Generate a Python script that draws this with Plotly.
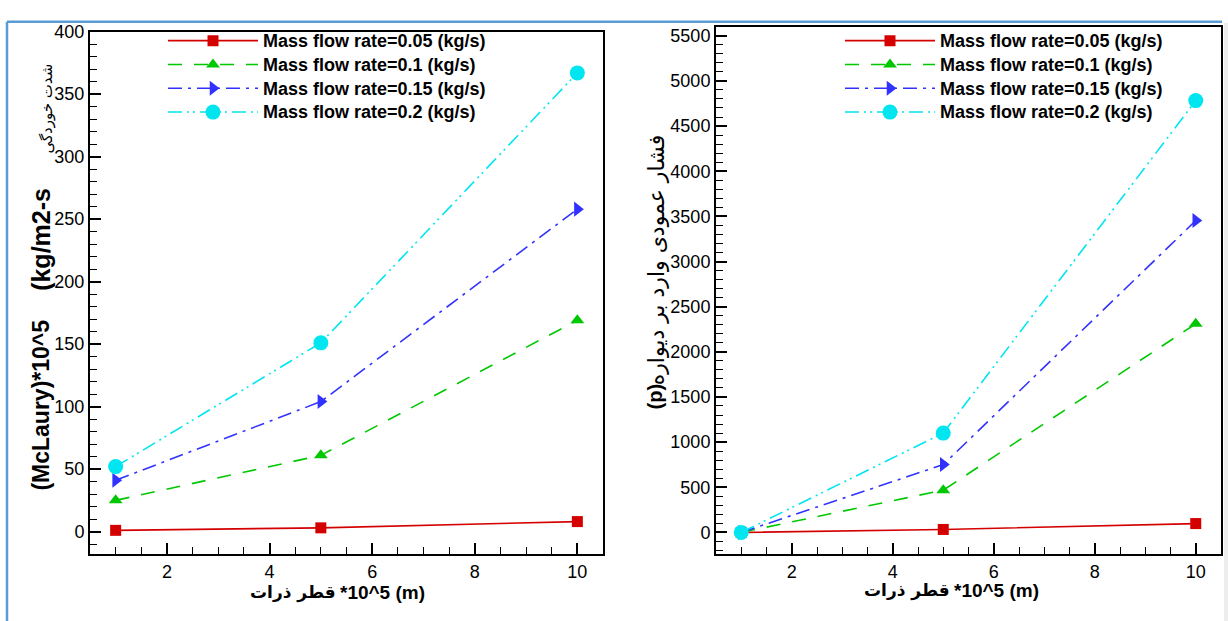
import plotly.graph_objects as go

W, H = 1228, 621

# particle diameter (*10^5 m)
diameter = [1, 5, 10]

flow_names = [
    "Mass flow rate=0.05 (kg/s)",
    "Mass flow rate=0.1 (kg/s)",
    "Mass flow rate=0.15 (kg/s)",
    "Mass flow rate=0.2 (kg/s)",
]

# erosion rate (McLaury)*10^5 (kg/m2-s)
erosion_005 = [1, 3, 8]
erosion_010 = [25, 61, 169]
erosion_015 = [41, 104, 258]
erosion_020 = [52, 151, 367]

# normal pressure on the wall (p)
pressure_005 = [0, 33, 98]
pressure_010 = [0, 468, 2310]
pressure_015 = [0, 751, 3453]
pressure_020 = [0, 1100, 4782]

erosion = [erosion_005, erosion_010, erosion_015, erosion_020]
pressure = [pressure_005, pressure_010, pressure_015, pressure_020]

colors = ["#d40000", "#00c800", "#3232ff", "#00e6f0"]
dashes = ["solid", "14px,12px", "14px,6px,3px,6px", "14px,5px,2px,4px,2px,5px"]
symbols = ["square", "triangle-up", "triangle-right", "circle"]
msizes = [11, 12, 13, 15]

FONT = "Liberation Sans, Arial, DejaVu Sans, sans-serif"
FA_FONT = "DejaVu Sans, sans-serif"

fig = go.Figure()
for i in range(4):
    label = f'<span style="font-size:18px">{flow_names[i]}</span>'
    for vals, xa, ya, lg in [(erosion[i], "x", "y", "legend"), (pressure[i], "x2", "y2", "legend2")]:
        fig.add_trace(go.Scatter(
            x=diameter, y=vals, xaxis=xa, yaxis=ya, name=label,
            mode="lines+markers", legend=lg,
            line=dict(color=colors[i], width=1.6, dash=dashes[i]),
            marker=dict(symbol=symbols[i], size=msizes[i], color=colors[i],
                        line=dict(width=0)),
        ))


def px_x(p):
    return p / W


def px_y(p):
    return 1 - p / H


axis_common = dict(
    showline=True, linecolor="black", linewidth=2, mirror=True,
    ticks="inside", tickcolor="black", tickwidth=1.5, ticklen=11,
    showgrid=False, zeroline=False,
    tickfont=dict(family=FONT, size=18, color="black"),
)


def minor(step):
    return dict(dtick=step, ticks="inside", ticklen=7, tickcolor="black",
                tickwidth=1.2, showgrid=False)


legend_style = dict(xanchor="left", yanchor="top", bgcolor="rgba(0,0,0,0)",
                    borderwidth=0, itemwidth=90, tracegroupgap=0,
                    font=dict(family=FONT, size=16, color="black", weight="bold"))

fig.update_layout(
    width=W, height=H,
    margin=dict(l=0, r=0, t=0, b=0),
    paper_bgcolor="white", plot_bgcolor="white",
    font=dict(family=FONT, color="black"),
    xaxis=dict(domain=[px_x(90), px_x(603)], range=[0.5, 10.5], dtick=2, tick0=0,
               anchor="y", minor=minor(0.5), **axis_common),
    yaxis=dict(domain=[px_y(553), px_y(22)], range=[-18, 400], dtick=50, tick0=0,
               anchor="x", minor=minor(10), **axis_common),
    xaxis2=dict(domain=[px_x(716), px_x(1221)], range=[0.5, 10.5], dtick=2, tick0=0,
                anchor="y2", minor=minor(0.5), **axis_common),
    yaxis2=dict(domain=[px_y(553), px_y(17)], range=[-240, 5600], dtick=500, tick0=0,
                anchor="x2", minor=minor(100), **axis_common),
    legend=dict(x=px_x(163), y=px_y(14), **legend_style),
    legend2=dict(x=px_x(840), y=px_y(14), **legend_style),
    showlegend=True,
)

# outer frame of the figure
fig.add_shape(type="line", xref="paper", yref="paper",
              x0=px_x(7), x1=px_x(1222), y0=px_y(12), y1=px_y(12),
              line=dict(color="#5b9bd5", width=2.5))
fig.add_shape(type="line", xref="paper", yref="paper",
              x0=px_x(7), x1=px_x(7), y0=px_y(12), y1=0,
              line=dict(color="#5b9bd5", width=2.5))
fig.add_shape(type="rect", xref="paper", yref="paper",
              x0=px_x(1224), x1=1, y0=0, y1=px_y(13),
              line=dict(width=0), fillcolor="#ededed")


def bold(size):
    return dict(family=FONT, size=size, color="black", weight="bold")


annotations = [
    # left panel y title
    dict(text="(McLaury)*10^5", x=px_x(41), y=px_y(491), textangle=-90,
         xanchor="center", yanchor="bottom", font=bold(23)),
    dict(text="(kg/m2-s", x=px_x(41), y=px_y(288), textangle=-90,
         xanchor="center", yanchor="bottom", font=bold(25)),
    dict(text="شدت خوردگی", x=px_x(47), y=px_y(148), textangle=-90,
         xanchor="center", yanchor="bottom",
         font=dict(family=FA_FONT, size=15, color="black")),
    # right panel y title
    dict(text="(p)", x=px_x(655), y=px_y(408), textangle=-90,
         xanchor="center", yanchor="bottom", font=bold(20)),
    dict(text="فشار عمودی وارد بر دیواره", x=px_x(656), y=px_y(384), textangle=-90,
         xanchor="center", yanchor="bottom",
         font=dict(family=FA_FONT, size=22, color="black")),
    # x titles
    dict(text="قطر ذرات", x=px_x(338), y=px_y(592), xanchor="right", yanchor="middle",
         font=dict(family=FA_FONT, size=17, color="black", weight="bold")),
    dict(text="*10^5 (m)", x=px_x(338), y=px_y(592), xanchor="left", yanchor="middle",
         font=bold(19)),
    dict(text="قطر ذرات", x=px_x(952), y=px_y(590), xanchor="right", yanchor="middle",
         font=dict(family=FA_FONT, size=17, color="black", weight="bold")),
    dict(text="*10^5 (m)", x=px_x(952), y=px_y(590), xanchor="left", yanchor="middle",
         font=bold(19)),
]
for a in annotations:
    a.update(xref="paper", yref="paper", showarrow=False)
    fig.add_annotation(**a)

fig.write_html("out.html")
